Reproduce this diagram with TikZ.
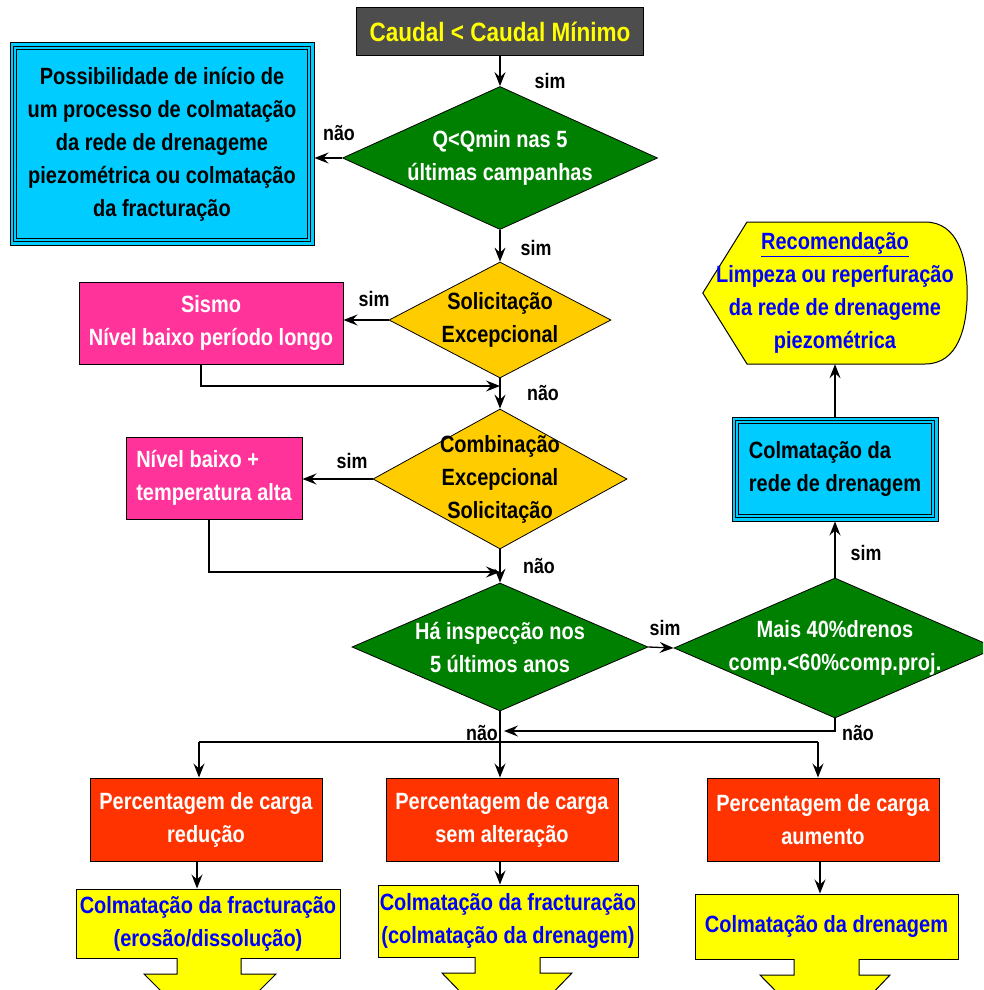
\documentclass[tikz,border=0pt]{standalone}
\usepackage{fontspec}
\setmainfont{Liberation Sans}[FakeStretch=0.85]
\usetikzlibrary{shapes.geometric,arrows.meta,backgrounds,calc}
\definecolor{dgray}{HTML}{4D4D4D}
\definecolor{dgreen}{HTML}{008000}
\definecolor{gold}{HTML}{FFCC00}
\definecolor{cyanb}{HTML}{00CCFF}
\definecolor{pinkb}{HTML}{FF3399}
\definecolor{redb}{HTML}{FF3300}
\definecolor{yel}{HTML}{FFFF00}
\definecolor{blu}{HTML}{0000FF}
\tikzset{
  txt/.style={font=\fontsize{23.5}{33}\selectfont\bfseries, align=center},
  box/.style={draw=black, line width=1pt, inner sep=0pt, txt},
  dia/.style={diamond, draw=black, line width=0.8pt, inner sep=0pt},
  arr/.style={-{Stealth[length=14pt,width=11pt,inset=5pt]}, line width=1.3pt},
  ln/.style={line width=1.3pt},
  lab/.style={font=\fontsize{21}{24}\selectfont\bfseries, inner sep=0pt},
  blockarrow/.style={fill=yel, draw=black, line width=1pt}
}
\begin{document}
\begin{tikzpicture}[x=1pt,y=-1pt]
\useasboundingbox (0,0) rectangle (983,990);
\clip (0,0) rectangle (983,990);

% top box
\node[box, fill=dgray, text=yel, minimum width=287pt, minimum height=48pt,
      font=\fontsize{26.5}{30}\selectfont\bfseries] (tb) at (500,32) {Caudal < Caudal Mínimo};

% blue box 1
\node[box, fill=cyanb, minimum width=304pt, minimum height=202pt] (bb1) at (162,144)
  {Possibilidade de início de\\um processo de colmatação\\da rede de drenageme\\piezométrica ou colmatação\\da fracturação};
\draw[line width=1pt] ([shift={(4,4)}]bb1.north west) rectangle ([shift={(-4,-4)}]bb1.south east);
\draw[line width=1pt] ([shift={(7,7)}]bb1.north west) rectangle ([shift={(-7,-7)}]bb1.south east);

% diamonds
\node[dia, fill=dgreen, minimum width=315pt, minimum height=143pt,
      label={[txt,text=white]center:{Q<Qmin nas 5\\últimas campanhas}}] (d1) at (500,158) {};
\node[dia, fill=gold, minimum width=222pt, minimum height=116pt,
      label={[txt,text=black]center:{Solicitação\\Excepcional}}] (d2) at (500,320) {};
\node[dia, fill=gold, minimum width=254pt, minimum height=140pt,
      label={[txt,text=black]center:{Combinação\\Excepcional\\Solicitação}}] (d3) at (500,479) {};
\node[dia, fill=dgreen, minimum width=296pt, minimum height=128pt,
      label={[txt,text=white]center:{Há inspecção nos\\5 últimos anos}}] (d4) at (500,647) {};
\node[dia, fill=dgreen, minimum width=322pt, minimum height=140pt,
      label={[txt,text=white]center:{Mais 40\%drenos\\comp.<60\%comp.proj.}}] (d5) at (835,648) {};

% pink boxes
\node[box, fill=pinkb, text=white, minimum width=264pt, minimum height=82pt] (p1) at (211,323)
  {Sismo\\Nível baixo período longo};
\node[box, fill=pinkb, text=white, minimum width=176pt, minimum height=82pt, align=left] (p2) at (214,478)
  {Nível baixo +\\temperatura alta};

% blue box 2
\node[box, fill=cyanb, minimum width=206pt, minimum height=104pt, align=left] (bb2) at (835,469)
  {Colmatação da\\rede de drenagem};
\draw[line width=1pt] ([shift={(4,4)}]bb2.north west) rectangle ([shift={(-4,-4)}]bb2.south east);
\draw[line width=1pt] ([shift={(7,7)}]bb2.north west) rectangle ([shift={(-7,-7)}]bb2.south east);

% recommendation display shape
\node[txt, text=blu, minimum width=264pt, minimum height=142pt, inner sep=0pt] (rec) at (835,293)
  {\underline{Recomendação}\\Limpeza ou reperfuração\\da rede de drenageme\\piezométrica};
\begin{scope}[on background layer]
\fill[white] (0,0) rectangle (983,990);
\filldraw[fill=yel, draw=black, line width=1pt]
  (rec.west) -- (747,222) -- (925,222) .. controls (958,222) and (967,258) .. (rec.east)
  .. controls (967,328) and (958,364) .. (925,364) -- (747,364) -- cycle;
\end{scope}

% red boxes
\node[box, fill=redb, text=white, minimum width=232pt, minimum height=83pt] (ra) at (206,819.5)
  {Percentagem de carga\\redução};
\node[box, fill=redb, text=white, minimum width=232pt, minimum height=83pt] (rb) at (502,819.5)
  {Percentagem de carga\\sem alteração};
\node[box, fill=redb, text=white, minimum width=232pt, minimum height=83pt] (rc) at (823,819.5)
  {Percentagem de carga\\aumento};

% yellow boxes
\node[box, fill=yel, text=blu, minimum width=264pt, minimum height=69pt] (ya) at (208,923.5)
  {Colmatação da fracturação\\(erosão/dissolução)};
\node[box, fill=yel, text=blu, minimum width=260pt, minimum height=72pt] (yb) at (508,921)
  {Colmatação da fracturação\\(colmatação da drenagem)};
\node[box, fill=yel, text=blu, minimum width=263pt, minimum height=65pt] (yc) at (826.5,926.5)
  {Colmatação da drenagem};

% block arrows
\filldraw[blockarrow] (177,958) -- (177,974) -- (144,974) -- (210,1040) -- (276,974) -- (241,974) -- (241,958);
\filldraw[blockarrow] (475,957) -- (475,973) -- (442,973) -- (507,1040) -- (572,973) -- (540,973) -- (540,957);
\filldraw[blockarrow] (794,959) -- (794,975) -- (760,975) -- (826,1042) -- (890,975) -- (859,975) -- (859,959);

% connectors
\draw[arr] (tb.south) -- (d1.north);
\draw[arr] (d1.west) -- (d1.west -| bb1.east);
\draw[arr] (d1.south) -- (d2.north);
\draw[arr] (d2.west) -- (d2.west -| p1.east);
\draw[arr] (d2.south) -- (d3.north);
\coordinate (r1) at (201,386);
\draw[arr] (p1.south -| r1) -- (r1) -- (r1 -| d2.south);
\draw[arr] (d3.west) -- (d3.west -| p2.east);
\draw[arr] (d3.south) -- (d4.north);
\coordinate (r2) at (209,572);
\draw[arr] (p2.south -| r2) -- (r2) -- (r2 -| d3.south);
\draw[arr] (d4.east) -- (d5.west);
\draw[arr] (d5.north) -- (bb2.south);
\draw[arr] (bb2.north) -- (rec.south);
\coordinate (n5) at (835,731);
\draw[arr, shorten >=-4pt] (d5.south) -- (n5) -- ([xshift=8pt]n5 -| d4.south);
\coordinate (jl) at (199,742);
\coordinate (jr) at (818,742);
\draw[ln] (d4.south) -- (d4.south |- jl);
\draw[ln] (jl) -- (jr);
\draw[arr] (jl) -- (jl |- ra.north);
\draw[arr] (d4.south |- jl) -- (d4.south |- rb.north);
\draw[arr] (jr) -- (jr |- rc.north);
\draw[arr] ([xshift=-9pt]ra.south) -- ([xshift=-9pt]ra.south |- ya.north);
\draw[arr] ([xshift=-2pt]rb.south) -- ([xshift=-2pt]rb.south |- yb.north);
\draw[arr] ([xshift=-3pt]rc.south) -- ([xshift=-3pt]rc.south |- yc.north);

% labels
\node[lab] (l1) at (550,81) {sim};
\node[lab] (l2) at (339,133) {não};
\node[lab] (l3) at (536,248) {sim};
\node[lab] (l4) at (374,299) {sim};
\node[lab] (l5) at (543,393) {não};
\node[lab] (l6) at (352,461) {sim};
\node[lab] (l7) at (539,566) {não};
\node[lab] (l8) at (665,628) {sim};
\node[lab] (l9) at (866,553) {sim};
\node[lab] (l10) at (482,733) {não};
\node[lab] (l11) at (858,733) {não};
\end{tikzpicture}
\end{document}
